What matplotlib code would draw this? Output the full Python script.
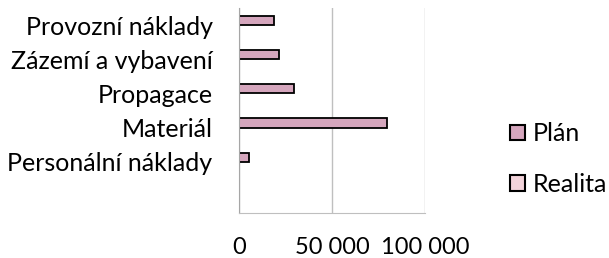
import matplotlib.pyplot as plt
from matplotlib.patches import Patch
from matplotlib.ticker import FuncFormatter
import numpy as np

# kategorie shora dolu (posledni je prazdny radek)
categories = ["Provozní náklady", "Zázemí a vybavení", "Propagace", "Materiál", "Personální náklady", ""]
plan = [18800, 21700, 29700, 79700, 5400, np.nan]
realita = [0, 0, 0, 0, 0, np.nan]
series_names = ["Plán", "Realita"]
x_ticks = [0, 50000, 100000]

plan_color = "#D5A6BD"
realita_color = "#F2D3DA"

plt.rcParams["font.family"] = ["Lato", "DejaVu Sans"]

fig = plt.figure(figsize=(6.09, 2.58), dpi=100)
ax = fig.add_axes([239 / 609, 45 / 258, 186 / 609, 205 / 258])

y = np.arange(len(categories))
h = 0.27
ax.barh(y - h / 2, plan, height=h, color=plan_color, edgecolor="black", linewidth=1.3)
ax.barh(y + h / 2, realita, height=h, color=realita_color, edgecolor="black", linewidth=0)

ax.set_ylim(len(categories) - 0.5, -0.5)
ax.set_xlim(0, 100000)
ax.set_yticks(y)
ax.set_yticklabels(categories, fontsize=18)
ax.set_xticks(x_ticks)
ax.xaxis.set_major_formatter(FuncFormatter(lambda v, p: f"{v:,.0f}".replace(",", " ")))
ax.tick_params(axis="x", length=0, pad=17, labelsize=17)
ax.tick_params(axis="y", length=0, pad=19)

ax.grid(axis="x", color="#BFBFBF", linewidth=1)
ax.set_axisbelow(True)
for s in ["top", "right"]:
    ax.spines[s].set_visible(False)
ax.spines["left"].set_color("#A6A6A6")
ax.spines["bottom"].set_color("#BFBFBF")

handles = [Patch(facecolor=plan_color, edgecolor="black", linewidth=1.5),
           Patch(facecolor=realita_color, edgecolor="black", linewidth=1.5)]
fig.legend(handles, series_names, loc="center left", bbox_to_anchor=(510 / 609, 99 / 258),
           frameon=False, fontsize=18, handlelength=0.6, handleheight=0.6,
           handletextpad=0.3, labelspacing=1.1, borderpad=0, borderaxespad=0)

fig.savefig("out.png", dpi=100)
